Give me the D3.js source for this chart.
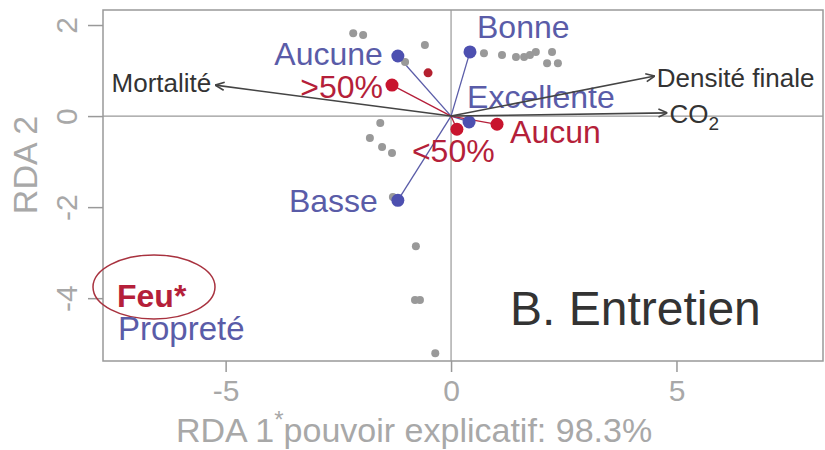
<!DOCTYPE html>
<head>
    <meta charset="utf-8">
    <script type="text/javascript" src="https://d3js.org/d3.v7.min.js"></script>
    <style>
        body { margin: 0; background: #fff; }
        svg text { font-family: Arial, "Liberation Sans", sans-serif; }
        .tick text { fill: #a8a8a8; font-size: 30px; }
        .tick line { stroke: #999; stroke-width: 1.5; }
    </style>
</head>

<svg class="chart" width="825" height="450"></svg>

<script>

    // site scores (grey dots)
    var siteX = [-2.17, -1.95, -0.58, -1.02, 0.73, 1.13, 1.44, 1.62, 1.75, 1.88, 2.24, 2.13, 2.37,
                 -1.57, -1.80, -1.53, -1.31, -1.29, -0.78, -0.80, -0.69, -0.35];
    var siteY = [1.82, 1.78, 1.56, 1.19, 1.38, 1.34, 1.30, 1.30, 1.34, 1.41, 1.41, 1.16, 1.16,
                 -0.15, -0.48, -0.68, -0.81, -1.78, -2.86, -4.04, -4.04, -5.21];
    // one site drawn in red
    var redSiteX = [-0.51], redSiteY = [0.95];

    // factor centroids
    var centroidNames = ["Aucune", "Bonne", "Excellente", "Basse", ">50%", "<50%", "Aucun"];
    var centroidX = [-1.18, 0.42, 0.40, -1.18, -1.31, 0.13, 1.02];
    var centroidY = [1.32, 1.41, -0.13, -1.85, 0.68, -0.29, -0.18];
    var centroidGroup = ["Propreté", "Propreté", "Propreté", "Propreté", "Feu", "Feu", "Feu"];

    // environmental vectors
    var vectorNames = ["Mortalité", "Densité finale", "CO2"];
    var vectorX = [-5.23, 4.52, 4.80];
    var vectorY = [0.68, 0.88, 0.07];

    var xTicks = [-5, 0, 5],
        yTicks = [-4, -2, 0, 2];

    var mLeft = 103, mRight = 823, mTop = 10, mBottom = 361;
    var blue = "#5a5ca8", red = "#b51f3a";

    var x = d3.scaleLinear().domain([-7.72, 8.25]).range([mLeft, mRight]);
    var y = d3.scaleLinear().domain([-5.38, 2.33]).range([mBottom, mTop]);

    var chart = d3.select(".chart");

    var defs = chart.append("defs");
    defs.append("marker")
        .attr("id", "arr")
        .attr("viewBox", "0 0 10 10")
        .attr("refX", 10).attr("refY", 5)
        .attr("markerWidth", 10).attr("markerHeight", 10)
        .attr("markerUnits", "userSpaceOnUse")
        .attr("orient", "auto")
        .append("path")
        .attr("d", "M1,1 L10,5 L1,9")
        .attr("fill", "none")
        .attr("stroke", "#444")
        .attr("stroke-width", 1.6);

    // zero lines
    chart.append("line")
        .attr("x1", mLeft).attr("x2", mRight)
        .attr("y1", y(0)).attr("y2", y(0))
        .attr("stroke", "#999").attr("stroke-width", 1.2);
    chart.append("line")
        .attr("x1", x(0)).attr("x2", x(0))
        .attr("y1", mTop).attr("y2", mBottom)
        .attr("stroke", "#999").attr("stroke-width", 1.2);

    // axes
    var xAxis = chart.append("g")
        .attr("transform", "translate(0," + mBottom + ")")
        .call(d3.axisBottom(x).tickValues(xTicks).tickSize(11).tickPadding(8)
              .tickFormat(function(d) { return d; }));
    xAxis.select(".domain").remove();

    var yAxis = chart.append("g")
        .attr("transform", "translate(" + mLeft + ",0)")
        .call(d3.axisLeft(y).tickValues(yTicks).tickSize(15)
              .tickFormat(function(d) { return d; }));
    yAxis.select(".domain").remove();
    yAxis.selectAll(".tick text")
        .attr("transform", "rotate(-90)")
        .attr("x", 0).attr("y", -26).attr("dy", 0)
        .attr("text-anchor", "middle");

    // box
    chart.append("rect")
        .attr("x", mLeft).attr("y", mTop)
        .attr("width", mRight - mLeft).attr("height", mBottom - mTop)
        .attr("fill", "none").attr("stroke", "#999").attr("stroke-width", 1.5);

    // axis titles
    var xt = chart.append("text")
        .attr("x", 176).attr("y", 442)
        .attr("fill", "#a8a8a8").style("font-size", "34px");
    xt.append("tspan").text("RDA 1");
    xt.append("tspan").attr("dy", -14).style("font-size", "24px").text("*");
    xt.append("tspan").attr("dy", 14).text("pouvoir explicatif: 98.3%");

    chart.append("text")
        .attr("transform", "translate(37,165) rotate(-90)")
        .attr("text-anchor", "middle")
        .attr("fill", "#a8a8a8").style("font-size", "34px")
        .text("RDA 2");

    // centroid segments
    chart.selectAll(".seg")
        .data(centroidNames)
        .enter().append("line")
        .attr("class", "seg")
        .attr("x1", x(0)).attr("y1", y(0))
        .attr("x2", function(d, i) { return x(centroidX[i]); })
        .attr("y2", function(d, i) { return y(centroidY[i]); })
        .attr("stroke", function(d, i) { return centroidGroup[i] == "Feu" ? red : blue; })
        .attr("stroke-width", 1.3);

    // sites
    chart.selectAll(".site")
        .data(siteX)
        .enter().append("circle")
        .attr("class", "site")
        .attr("cx", function(d) { return x(d); })
        .attr("cy", function(d, i) { return y(siteY[i]); })
        .attr("r", 4)
        .attr("fill", "#999");
    chart.selectAll(".rsite")
        .data(redSiteX)
        .enter().append("circle")
        .attr("cx", function(d) { return x(d); })
        .attr("cy", function(d, i) { return y(redSiteY[i]); })
        .attr("r", 4.5)
        .attr("fill", "#b4202f");

    // centroid points
    chart.selectAll(".cen")
        .data(centroidNames)
        .enter().append("circle")
        .attr("class", "cen")
        .attr("cx", function(d, i) { return x(centroidX[i]); })
        .attr("cy", function(d, i) { return y(centroidY[i]); })
        .attr("r", 6.5)
        .attr("fill", function(d, i) { return centroidGroup[i] == "Feu" ? "#c8142e" : "#4d50b0"; });

    // label offsets [dx, dy, anchor]
    var offs = {
        "Aucune": [-15, 9, "end"],
        "Bonne": [7, -14, "start"],
        "Excellente": [-2, -14, "start"],
        "Basse": [-20, 12, "end"],
        ">50%": [-9, 13, "end"],
        "<50%": [-45, 33, "start"],
        "Aucun": [13, 19, "start"]
    };
    chart.selectAll(".clab")
        .data(centroidNames)
        .enter().append("text")
        .attr("class", "clab")
        .attr("x", function(d, i) { return x(centroidX[i]) + offs[d][0]; })
        .attr("y", function(d, i) { return y(centroidY[i]) + offs[d][1]; })
        .attr("text-anchor", function(d) { return offs[d][2]; })
        .attr("fill", function(d, i) { return centroidGroup[i] == "Feu" ? red : blue; })
        .style("font-size", "32px")
        .text(function(d) { return d; });

    // vectors
    chart.selectAll(".vec")
        .data(vectorNames)
        .enter().append("line")
        .attr("class", "vec")
        .attr("x1", x(0)).attr("y1", y(0))
        .attr("x2", function(d, i) { return x(vectorX[i]); })
        .attr("y2", function(d, i) { return y(vectorY[i]); })
        .attr("stroke", "#444").attr("stroke-width", 1.6)
        .attr("marker-end", "url(#arr)");

    var voffs = {
        "Mortalité": [-4, 7, "end"],
        "Densité finale": [2, 11, "start"],
        "CO2": [2, 10, "start"]
    };
    var vlab = chart.selectAll(".vlab")
        .data(vectorNames)
        .enter().append("text")
        .attr("class", "vlab")
        .attr("x", function(d, i) { return x(vectorX[i]) + voffs[d][0]; })
        .attr("y", function(d, i) { return y(vectorY[i]) + voffs[d][1]; })
        .attr("text-anchor", function(d) { return voffs[d][2]; })
        .attr("fill", "#333")
        .style("font-size", "26px");
    vlab.filter(function(d) { return d != "CO2"; }).text(function(d) { return d; });
    var co2 = vlab.filter(function(d) { return d == "CO2"; });
    co2.append("tspan").text("CO");
    co2.append("tspan").attr("dy", 7).style("font-size", "19px").text("2");

    // Feu* / Propreté note
    chart.append("ellipse")
        .attr("cx", 154).attr("cy", 287)
        .attr("rx", 61).attr("ry", 32)
        .attr("fill", "none").attr("stroke", "#a8323f").attr("stroke-width", 1.5);
    chart.append("text")
        .attr("x", 117).attr("y", 307)
        .attr("fill", red).style("font-size", "32px").style("font-weight", "bold")
        .text("Feu*");
    chart.append("text")
        .attr("x", 118).attr("y", 340)
        .attr("fill", blue).style("font-size", "33px")
        .text("Propreté");

    chart.append("text")
        .attr("x", 510).attr("y", 325)
        .attr("fill", "#333").style("font-size", "48px")
        .text("B. Entretien");

</script>
